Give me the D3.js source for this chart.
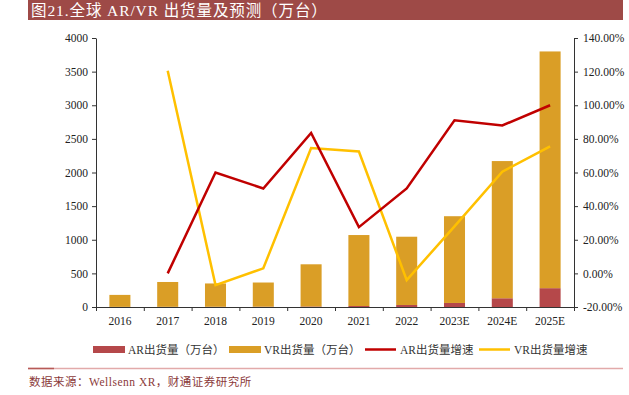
<!DOCTYPE html>
<html><head><meta charset="utf-8">
<script src="https://cdn.jsdelivr.net/npm/d3@7"></script>
<style>
body{margin:0;background:#fff;}
svg{display:block;}
</style></head>
<body>
<svg id="c" width="629" height="395"></svg>
<script>
const years = ["2016","2017","2018","2019","2020","2021","2022","2023E","2024E","2025E"];
const arShip = [2, 3, 4, 5, 8, 15, 30, 60, 130, 280];
const vrShip = [178, 369, 346, 359, 627, 1055, 1015, 1290, 2040, 3520];
const arGrowth = [null, 0, 60, 50.5, 83.5, 27.5, 50.5, 91, 88, 100];
const vrGrowth = [null, 120.5, -7, 3, 74.5, 72.5, -4, 28, 60.5, 75.5];
const leftTicks = [0,500,1000,1500,2000,2500,3000,3500,4000];
const rightTicks = [-20,0,20,40,60,80,100,120,140];
const titleText = "图21.全球 AR/VR 出货量及预测（万台）";
const sourceText = "数据来源：Wellsenn XR，财通证券研究所";
const legendItems = [
  {label:"AR出货量（万台）", type:"rect", color:"#B5484A"},
  {label:"VR出货量（万台）", type:"rect", color:"#DA9E26"},
  {label:"AR出货量增速", type:"line", color:"#C00000"},
  {label:"VR出货量增速", type:"line", color:"#FFC000"}
];

(function(){
const svg = d3.select("#c");
const FONT = "'Liberation Serif','Noto Sans CJK SC',serif";
const pL = 96, pR = 574, pT = 38, pB = 307;

// title bar
svg.append("rect").attr("x",28).attr("y",0).attr("width",595).attr("height",20).attr("fill","#9E4A47");
svg.append("text").attr("x",31).attr("y",16).attr("fill","#fff").attr("font-size",15.5)
  .attr("letter-spacing",0.9).attr("font-family",FONT).text(titleText);

const x = d3.scaleBand().domain(years).range([pL,pR]).paddingInner(0.56).paddingOuter(0.28);
const yL = d3.scaleLinear().domain([0,4000]).range([pB,pT]);
const yR = d3.scaleLinear().domain([-20,140]).range([pB,pT]);

// bars
const g = svg.append("g");
years.forEach((yr,i)=>{
  g.append("rect").attr("x",x(yr)).attr("width",x.bandwidth())
    .attr("y",yL(arShip[i])).attr("height",yL(0)-yL(arShip[i])).attr("fill","#B5484A");
  g.append("rect").attr("x",x(yr)).attr("width",x.bandwidth())
    .attr("y",yL(arShip[i]+vrShip[i])).attr("height",yL(arShip[i])-yL(arShip[i]+vrShip[i])).attr("fill","#DA9E26");
});

// axes
svg.append("g").attr("transform",`translate(${pL},0)`)
  .call(d3.axisLeft(yL).tickValues(leftTicks).tickSize(4).tickSizeOuter(0).tickPadding(4).tickFormat(d3.format("d")));
svg.append("g").attr("transform",`translate(${pR},0)`)
  .call(d3.axisRight(yR).tickValues(rightTicks).tickSize(4).tickSizeOuter(0).tickPadding(5).tickFormat(d=>d.toFixed(2)+"%"));
const xb = d3.scaleLinear().domain([0,years.length]).range([pL,pR]);
svg.append("g").attr("transform",`translate(0,${pB})`)
  .call(d3.axisBottom(xb).tickValues(d3.range(0,years.length+1)).tickSize(4).tickSizeOuter(0).tickFormat(""));
svg.append("g").attr("transform",`translate(0,${pB})`)
  .call(d3.axisBottom(x).tickSize(0).tickPadding(10))
  .call(s=>s.select(".domain").remove());
svg.selectAll(".tick text").attr("font-family",FONT).attr("font-size",11.5).attr("fill","#222");
svg.selectAll(".domain,.tick line").attr("stroke","#333");

// lines
const line = d3.line().defined(d=>d.v!==null).x(d=>x(d.y)+x.bandwidth()/2).y(d=>yR(d.v));
svg.append("path").datum(years.map((y,i)=>({y,v:vrGrowth[i]})))
  .attr("d",line).attr("fill","none").attr("stroke","#FFC000").attr("stroke-width",2.5);
svg.append("path").datum(years.map((y,i)=>({y,v:arGrowth[i]})))
  .attr("d",line).attr("fill","none").attr("stroke","#C00000").attr("stroke-width",2.5);

// legend
const lx = [93,229,365,479];
const lg = svg.append("g");
legendItems.forEach((it,i)=>{
  if(it.type==="rect"){
    lg.append("rect").attr("x",lx[i]).attr("y",346).attr("width",32).attr("height",7).attr("fill",it.color);
  } else {
    lg.append("line").attr("x1",lx[i]).attr("x2",lx[i]+31).attr("y1",349.5).attr("y2",349.5)
      .attr("stroke",it.color).attr("stroke-width",2.5);
  }
  lg.append("text").attr("x",lx[i]+35).attr("y",353.5).attr("font-size",11.5)
    .attr("font-family",FONT).attr("fill","#333").text(it.label);
});

// footer
svg.append("line").attr("x1",28).attr("x2",623).attr("y1",368.5).attr("y2",368.5).attr("stroke","#E2AAAA").attr("stroke-width",1.5);
svg.append("line").attr("x1",28).attr("x2",54).attr("y1",368.5).attr("y2",368.5).attr("stroke","#B75A57").attr("stroke-width",1.5);
svg.append("text").attr("x",29).attr("y",386).attr("font-size",11.5).attr("font-family",FONT)
  .attr("letter-spacing",0.5).attr("fill","#8B3A3A").text(sourceText);
})();
</script>
</body></html>
